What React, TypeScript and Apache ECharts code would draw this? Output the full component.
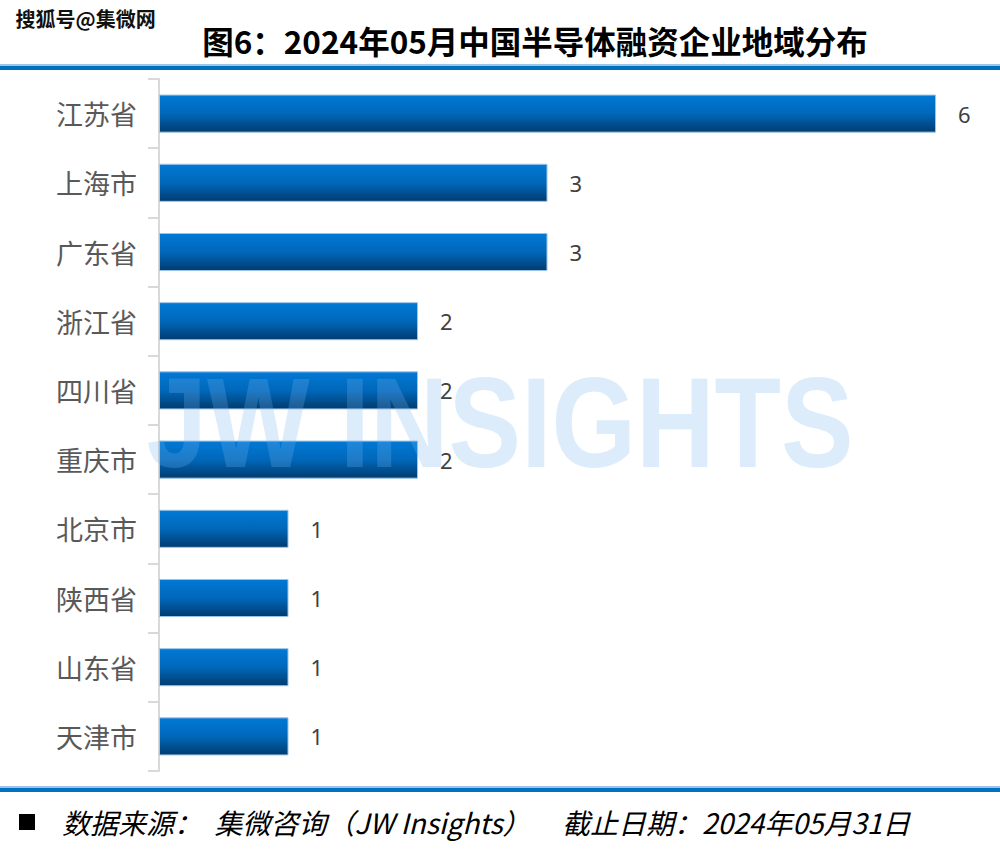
import React, { useEffect, useRef } from "react";
import * as echarts from "echarts";

const categories = ["江苏省", "上海市", "广东省", "浙江省", "四川省", "重庆市", "北京市", "陕西省", "山东省", "天津市"];
const values = [6, 3, 3, 2, 2, 2, 1, 1, 1, 1];
const titleText = "图6：2024年05月中国半导体融资企业地域分布";
const sourceText = "数据来源：  集微咨询（JW Insights）     截止日期：2024年05月31日";
const watermarkText = "JW INSIGHTS";
const cornerText = "搜狐号@集微网";

export default function App() {
  const ref = useRef<HTMLDivElement>(null);
  useEffect(() => {
    document.body.style.margin = "0";
    const chart = echarts.init(ref.current!, null, { renderer: "svg" });
    const cjk = '"Noto Sans CJK SC", "Noto Sans", sans-serif';
    chart.setOption({
      animation: false,
      backgroundColor: "#ffffff",
      grid: { left: 159, right: 64, top: 79, bottom: 90, containLabel: false },
      xAxis: { type: "value", min: 0, max: 6, show: false },
      yAxis: {
        type: "category",
        data: categories,
        inverse: true,
        axisLine: { show: true, lineStyle: { color: "#D9D9D9", width: 2 } },
        axisTick: { show: true, length: 11, lineStyle: { color: "#D9D9D9", width: 2 } },
        axisLabel: { fontSize: 27, color: "#595959", margin: 22, fontFamily: cjk },
      },
      series: [
        {
          type: "bar",
          data: values,
          barCategoryGap: "45%",
          itemStyle: {
            color: new echarts.graphic.LinearGradient(0, 0, 0, 1, [
              { offset: 0, color: "#0079D6" },
              { offset: 0.5, color: "#0068BA" },
              { offset: 1, color: "#003C70" },
            ]),
            borderColor: "#9DC3E6",
            borderWidth: 1,
          },
          label: {
            show: true,
            position: "right",
            distance: 22,
            fontSize: 22,
            color: "#404040",
            fontFamily: '"Noto Sans", sans-serif',
          },
          z: 2,
        },
      ],
      graphic: [
        {
          type: "text",
          left: 15,
          top: 8,
          z: 100,
          style: { text: cornerText, fontSize: 20, fontWeight: "bold", fill: "#111", fontFamily: cjk, stroke: "#fff", lineWidth: 1 },
        },
        {
          type: "text",
          x: 535,
          y: 40,
          z: 100,
          style: {
            text: titleText,
            fontSize: 31.5,
            fontWeight: "bold",
            fill: "#000",
            fontFamily: cjk,
            textAlign: "center",
            textVerticalAlign: "middle",
          },
        },
        { type: "rect", shape: { x: 0, y: 64, width: 1000, height: 2 }, style: { fill: "#9DC3E6" }, z: 100 },
        { type: "rect", shape: { x: 0, y: 66, width: 1000, height: 4 }, style: { fill: "#0070C0" }, z: 100 },
        { type: "rect", shape: { x: 0, y: 786, width: 1000, height: 2 }, style: { fill: "#9DC3E6" }, z: 100 },
        { type: "rect", shape: { x: 0, y: 788, width: 1000, height: 4 }, style: { fill: "#0070C0" }, z: 100 },
        {
          type: "text",
          x: 500,
          y: 422,
          scaleX: 0.85,
          z: 100,
          silent: true,
          style: {
            text: watermarkText,
            fontSize: 128,
            fontWeight: "bold",
            fill: "rgba(120,180,240,0.25)",
            fontFamily: '"Liberation Sans", sans-serif',
            textAlign: "center",
            textVerticalAlign: "middle",
          },
        },
        { type: "rect", shape: { x: 19, y: 814, width: 16, height: 16 }, style: { fill: "#000" }, z: 100 },
        {
          type: "text",
          x: 62,
          y: 822,
          z: 100,
          style: {
            text: sourceText,
            fontSize: 28,
            fontStyle: "italic",
            fill: "#000",
            fontFamily: cjk,
            textVerticalAlign: "middle",
          },
        },
      ],
    });
    return () => chart.dispose();
  }, []);
  return <div ref={ref} style={{ width: 1000, height: 861 }} />;
}
